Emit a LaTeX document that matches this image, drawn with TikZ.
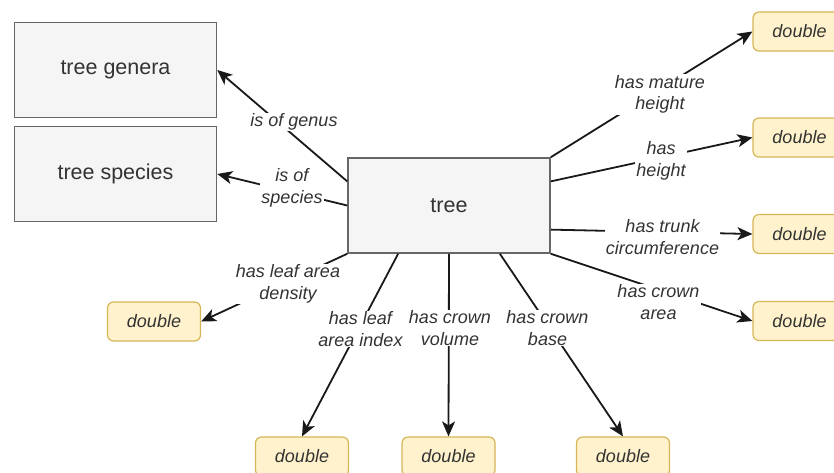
\documentclass[tikz,border=0pt]{standalone}
\usepackage{fontspec}
\setmainfont{Liberation Sans}
\usepackage{tikz}
\usetikzlibrary{arrows.meta}
\usetikzlibrary{calc}
\definecolor{boxfill}{HTML}{F5F5F5}
\definecolor{boxline}{HTML}{666666}
\definecolor{litfill}{HTML}{FFF2CC}
\definecolor{litline}{HTML}{D6B656}
\definecolor{txt}{HTML}{333333}
\tikzset{
  classbox/.style = {draw=boxline, fill=boxfill, line width=1.5pt,
    minimum width=202pt, minimum height=95pt, text=txt,
    font=\fontsize{21.5}{26}\selectfont},% owl class
  litbox/.style = {draw=litline, fill=litfill, line width=1.2pt,
    rounded corners=6pt, minimum width=93pt, minimum height=39pt,
    text=txt, font=\fontsize{18}{22}\selectfont\itshape},% literal, xsd double
  proplabel/.style = {fill=white, inner sep=1pt, align=center, text=txt,
    font=\fontsize{18}{21.5}\selectfont\itshape},% property name
  rel/.style = {->, line width=1.8pt, draw=black!90}
}

\begin{document}
\begin{tikzpicture}[x=1pt,y=-1pt,>={Stealth[length=15pt,width=13pt,inset=4pt]}]
\useasboundingbox (0,0) rectangle (834,472);
\clip (0,0) rectangle (834,472);

\node [classbox] (gen) at (115.5,70) {tree genera};
\node [classbox] (spec) at (115.5,174) {tree species};
\node [classbox] (t) at (449,205.5) {tree};

\node [litbox] (mh) at (799.5,31.5) {double};
\node [litbox] (h) at (799.5,137.5) {double};
\node [litbox] (tc) at (799.5,234) {double};
\node [litbox] (ca) at (799.5,321) {double};
\node [litbox] (lad) at (154,321.5) {double};
\node [litbox] (lai) at (302,456.5) {double};
\node [litbox] (cv) at (448.5,456.5) {double};
\node [litbox] (cb) at (623,456.5) {double};

\draw [rel] ($(t.north west)!0.25!(t.south west)$) -- (gen.east);
\draw [rel] (t.west) -- (spec.east);
\draw [rel] (t.north east) -- (mh.west);
\draw [rel] ($(t.north east)!0.25!(t.south east)$) -- (h.west);
\draw [rel] ($(t.north east)!0.75!(t.south east)$) -- (tc.west);
\draw [rel] (t.south east) -- (ca.west);
\draw [rel] (t.south west) -- (lad.east);
\draw [rel] ($(t.south west)!0.25!(t.south east)$) -- (lai.north);
\draw [rel] (t.south) -- (cv.north);
\draw [rel] ($(t.south west)!0.75!(t.south east)$) -- (cb.north);

% property names sit on top of the lines
\node [proplabel] (l_gen) at (294,122) {is of genus};
\node [proplabel] (l_spec) at (292,188) {is of\\species};
\node [proplabel] (l_mh) at (660,94.5) {has mature\\height};
\node [proplabel] (l_h) at (661,161) {has\\height};
\node [proplabel] (l_tc) at (662.5,237) {has trunk\\circumference};
\node [proplabel] (l_ca) at (658.5,302) {has crown\\area};
\node [proplabel] (l_lad) at (288,284) {has leaf area\\density};
\node [proplabel] (l_lai) at (360.5,329) {has leaf\\area index};
\node [proplabel] (l_cv) at (450,328) {has crown\\volume};
\node [proplabel] (l_cb) at (547.5,328) {has crown\\base};
\end{tikzpicture}
\end{document}
